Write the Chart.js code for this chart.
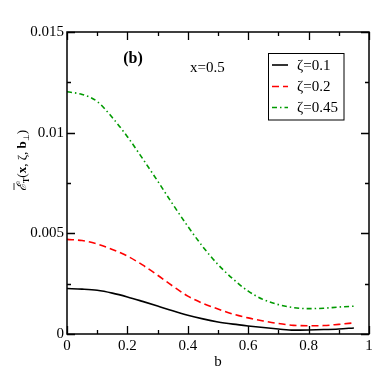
<!DOCTYPE html>
<html><head><meta charset="utf-8">
<script src="https://cdn.jsdelivr.net/npm/chart.js@4.4.1/dist/chart.umd.min.js"></script>
<style>html,body{margin:0;padding:0;background:#fff}#wrap{width:382px;height:382px}</style>
</head><body><div id="wrap"><canvas id="c" width="382" height="382"></canvas></div>
<script>
const bValues = [0,0.05,0.1,0.15,0.2,0.25,0.3,0.35,0.4,0.45,0.5,0.55,0.6,0.65,0.7,0.75,0.8,0.85,0.9,0.95];
const zeta01 = [0.00226,0.00223,0.00217,0.00203,0.00184,0.00162,0.00139,0.00115,0.00093,0.00075,0.0006,0.00049,0.0004,0.00032,0.00025,0.00019,0.0002,0.00022,0.00025,0.0003];
const zeta02 = [0.0047,0.00464,0.00447,0.0042,0.00387,0.00343,0.00292,0.00238,0.00188,0.00152,0.00124,0.00099,0.0008,0.00065,0.00052,0.00043,0.00041,0.00042,0.00048,0.00055];
const zeta045 = [0.01203,0.0119,0.01155,0.01075,0.0098,0.00872,0.0076,0.00645,0.00535,0.00433,0.00345,0.00273,0.00213,0.00171,0.00146,0.00131,0.00126,0.00128,0.00134,0.00138];
const seriesLabels = ['ζ=0.1','ζ=0.2','ζ=0.45'];
const xTickValues = [0,0.2,0.4,0.6,0.8,1];
const xTickLabels = ['0','0.2','0.4','0.6','0.8','1'];
const yTickValues = [0,0.005,0.01,0.015];
const yTickLabels = ['0','0.005','0.01','0.015'];
const xMinorValues = [0.1,0.3,0.5,0.7,0.9];
const yMinorValues = [0.0025,0.0075,0.0125];
const panelLabel = '(b)';
const annotation = 'x=0.5';
const xTitle = 'b';

const SERIF = '"Liberation Serif","Times New Roman",serif';
const toPts = arr => arr.map((v,i)=>({x:bValues[i], y:v}));

const overlay = {
  id:'overlay',
  afterDraw(chart){
    const ctx = chart.ctx, a = chart.chartArea;
    const xs = chart.scales.x, ys = chart.scales.y;
    ctx.save();
    ctx.strokeStyle = '#000'; ctx.lineWidth = 1.3;
    const tick = (p, len, horiz) => {
      ctx.beginPath();
      if (horiz) { ctx.moveTo(p, a.bottom); ctx.lineTo(p, a.bottom-len); ctx.moveTo(p, a.top); ctx.lineTo(p, a.top+len); }
      else { ctx.moveTo(a.left, p); ctx.lineTo(a.left+len, p); ctx.moveTo(a.right, p); ctx.lineTo(a.right-len, p); }
      ctx.stroke();
    };
    xTickValues.forEach(v=>tick(Math.round(xs.getPixelForValue(v))+0.5, 8, true));
    xMinorValues.forEach(v=>tick(Math.round(xs.getPixelForValue(v))+0.5, 4, true));
    yTickValues.forEach(v=>tick(Math.round(ys.getPixelForValue(v))+0.5, 8, false));
    yMinorValues.forEach(v=>tick(Math.round(ys.getPixelForValue(v))+0.5, 4, false));
    ctx.lineWidth = 1.5;
    ctx.strokeRect(a.left, a.top, a.right-a.left, a.bottom-a.top);
    ctx.fillStyle = '#000';
    ctx.textBaseline = 'alphabetic';
    ctx.font = 'bold 16px ' + SERIF;
    ctx.textAlign = 'center';
    ctx.fillText(panelLabel, 133, 63);
    ctx.font = '15px ' + SERIF;
    ctx.textAlign = 'left';
    ctx.fillText(annotation, 190, 72);
    ctx.textAlign = 'center';
    ctx.fillText(xTitle, 218, 366);
    ctx.save();
    ctx.translate(26, 191);
    ctx.rotate(-Math.PI/2);
    ctx.textAlign = 'left';
    let x = 0;
    const part = (t, font, dy) => { ctx.font = font; ctx.fillText(t, x, dy||0); const w = ctx.measureText(t).width; x += w; return w; };
    const x0 = x;
    const wE = part('ℰ', 'italic 13px ' + SERIF);
    ctx.lineWidth = 0.8; ctx.beginPath(); ctx.moveTo(x0+1, -12); ctx.lineTo(x0+wE, -12); ctx.stroke();
    part('T', 'bold 8px ' + SERIF, 3);
    part('(', '13px ' + SERIF);
    part('x', 'bold 13px ' + SERIF);
    part(', ζ, ', '13px ' + SERIF);
    part('b', 'bold 13px ' + SERIF);
    part('⊥', '8px ' + SERIF, 3);
    part(')', '13px ' + SERIF);
    ctx.restore();
    const lx = 268.5, ly = 53.5, lw = 75.5, lh = 66.5;
    ctx.lineWidth = 1; ctx.strokeStyle = '#000';
    ctx.strokeRect(lx, ly, lw, lh);
    const rows = [65, 86.5, 107.5];
    chart.data.datasets.forEach((ds, i) => {
      const y = rows[i];
      ctx.save();
      ctx.strokeStyle = ds.borderColor; ctx.lineWidth = ds.borderWidth;
      ctx.setLineDash(ds.borderDash || []);
      ctx.beginPath(); ctx.moveTo(272, y); ctx.lineTo(288, y); ctx.stroke();
      ctx.restore();
      ctx.font = '15px ' + SERIF; ctx.textAlign = 'left'; ctx.textBaseline = 'middle';
      ctx.fillStyle = '#000';
      ctx.fillText(ds.label, 297, y + 1);
    });
    ctx.restore();
  }
};

new Chart(document.getElementById('c'), {
  type: 'line',
  data: {
    datasets: [
      {label: seriesLabels[0], data: toPts(zeta01), borderColor:'#000000', borderWidth:1.6, pointRadius:0, cubicInterpolationMode:'monotone', fill:false},
      {label: seriesLabels[1], data: toPts(zeta02), borderColor:'#ff0000', borderWidth:1.6, borderDash:[7,4], pointRadius:0, cubicInterpolationMode:'monotone', fill:false},
      {label: seriesLabels[2], data: toPts(zeta045), borderColor:'#009a00', borderWidth:1.6, borderDash:[5,3,1.5,3], pointRadius:0, cubicInterpolationMode:'monotone', fill:false}
    ]
  },
  options: {
    responsive:false, animation:false, devicePixelRatio:1,
    layout:{padding:{top:32, right:13, left:0, bottom:0}},
    plugins:{legend:{display:false}, tooltip:{enabled:false}},
    scales:{
      x:{type:'linear', min:0, max:1,
        afterBuildTicks: s => { s.ticks = xTickValues.map(v=>({value:v})); },
        afterFit: s => { s.height = 48; },
        ticks:{callback:(v,i)=>xTickLabels[i], font:{family:SERIF, size:15}, color:'#000', padding:3, maxRotation:0, autoSkip:false},
        grid:{display:false, drawTicks:false}, border:{display:false}},
      y:{type:'linear', min:0, max:0.015,
        afterBuildTicks: s => { s.ticks = yTickValues.map(v=>({value:v})); },
        afterFit: s => { s.width = 67; },
        ticks:{callback:(v,i)=>yTickLabels[i], font:{family:SERIF, size:15}, color:'#000', padding:3, autoSkip:false},
        grid:{display:false, drawTicks:false}, border:{display:false}}
    }
  },
  plugins:[overlay]
});
</script></body></html>
